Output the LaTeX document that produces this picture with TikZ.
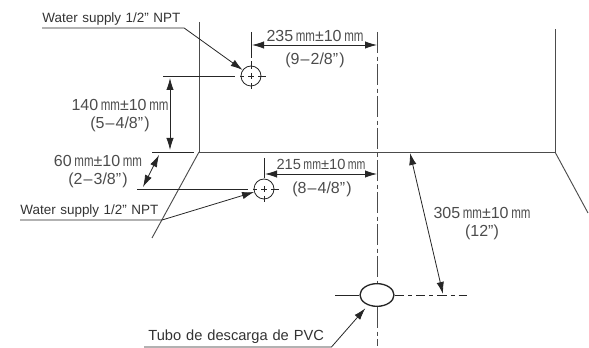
\documentclass[tikz,border=0pt]{standalone}
\usepackage{fontspec}
\setmainfont{Liberation Sans}
\newfontfamily\narrowfont[FakeStretch=0.72]{Liberation Sans}
\newcommand{\mmtol}[1]{#1\,{\narrowfont mm}±10\,{\narrowfont mm}}
\newcommand{\inch}[2]{(#1\kern.8pt--\kern.8pt#2"\kern.8pt)}
\usetikzlibrary{arrows.meta,shapes.geometric}
\tikzset{
  every path/.style={line width=0.6pt,black!85},
  tip/.style={-{Latex[length=9pt,width=5.5pt]}},
  tips/.style={{Latex[length=9pt,width=5.5pt]}-{Latex[length=9pt,width=5.5pt]}},
  wall/.style={line width=0.7pt,black!70},
  label/.style={black!80,anchor=south west,inner xsep=0pt,inner ysep=2pt,align=left},
  dim/.style={black!70,font=\fontsize{12}{13.5}\selectfont,inner sep=0pt,align=center},
  pipe/.style={circle,draw,minimum size=15pt,inner sep=0pt},
  drain/.style={ellipse,draw,line width=1pt,minimum width=25.5pt,minimum height=17pt,inner sep=0pt},
  center line/.style={dash pattern=on 16pt off 2.5pt on 3pt off 2.5pt,black!70}
}
\begin{document}
\begin{tikzpicture}[x=0.75pt,y=-0.75pt]
   \useasboundingbox (0,0) rectangle (589,348);
   % walls
   \draw[wall] (199,22) -- (199,152) -- (555,152) -- (555,29);
   \draw[wall] (199,152) -- (152,238);
   \draw[wall] (555,152) -- (588,213);
   % pipes and centre lines
   \node[pipe] (pipeA) at (251,76) {};
   \node[pipe] (pipeB) at (264,189) {};
   \node[drain] (drain) at (377,295) {};
   \draw[center line] (377,32) -- (drain.north);
   \draw[center line] (drain.south) -- (377,346);
   \foreach \p/\l in {pipeA/88,pipeB/127} {
     \draw (\p) +(-\l,0) -- +(-16,0) +(-11,0) -- +(-7,0) +(-3,0) -- +(3,0) +(7,0) -- +(15,0);
   }
   \draw (pipeA) +(0,-44) -- +(0,-18) +(0,-15) -- +(0,-7) +(0,-3) -- +(0,3) +(0,7) -- +(0,13);
   \draw (pipeB) +(0,-31) -- +(0,-11) +(0,-3) -- +(0,3) +(0,7) -- +(0,13);
   \draw (335,295) -- (drain.west);
   \draw[dash pattern=on 7pt off 3pt on 3pt off 3pt] (drain.east) -- (467,295);
   \draw (152,152) -- (194,152);
   % dimensions
   \draw[tips] (170,78) -- (170,150);
   \draw[tips] (159,155) -- (143,187);
   \draw[tips] (252,45) -- (377,45);
   \draw[tips] (265,174) -- (377,174);
   \draw[tips] (410,153) -- (443,294);
   \node[dim] (dimA) at (315,36) {\mmtol{235}};
   \node[dim] (dimAb) at (315,60) {\inch{9}{2/8}};
   \node[dim] (dimB) at (120,116) {\mmtol{140}\\\inch{5}{4/8}\hspace{7pt}};
   \node[dim] (dimC) at (98,172) {\mmtol{60}\\\inch{2}{3/8}\hspace{5pt}};
   \node[dim,font=\fontsize{11}{13.5}\selectfont] (dimD) at (321,164) {\mmtol{215}};
   \node[dim] (dimDb) at (322,189) {\inch{8}{4/8}};
   \node[dim] (dimE) at (482,224) {\mmtol{305}\\(12")};
   % leaders
   \node[label,font=\fontsize{10.1}{11}\selectfont,text width=106pt] (supplyA) at (42,28) {Water supply 1/2" NPT};
   \node[label,font=\fontsize{10.1}{11}\selectfont,text width=106pt] (supplyB) at (20,220) {Water supply 1/2" NPT};
   \node[label,font=\fontsize{11}{12}\selectfont,text width=140pt] (tubo) at (144,347) {\hspace{3pt}Tubo de descarga de PVC};
   \draw[tip] (supplyA.south west) -- (supplyA.south east) -- (pipeA);
   \draw[tip] (supplyB.south west) -- (supplyB.south east) -- (pipeB);
   \draw[tip,shorten >=3pt] (tubo.south west) -- (tubo.south east) -- (drain);
\end{tikzpicture}
\end{document}
